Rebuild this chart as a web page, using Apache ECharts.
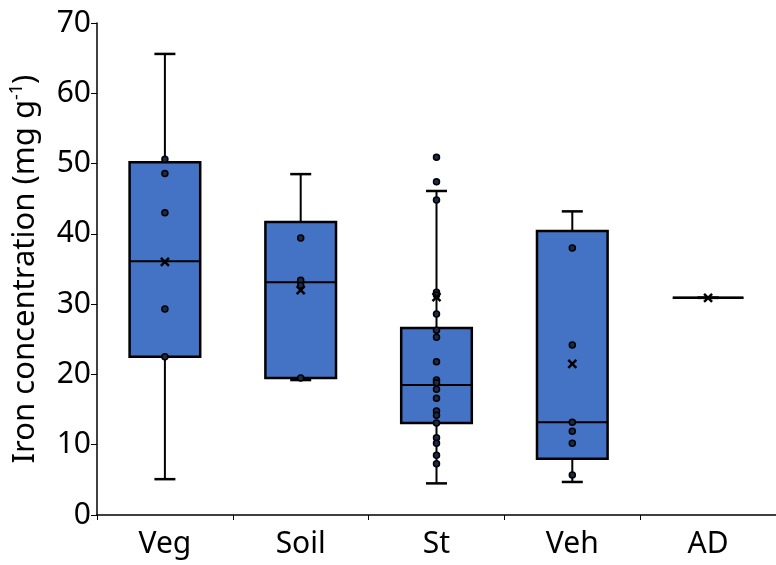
<!DOCTYPE html>
<html>
<head>
<meta charset="utf-8">
<script src="https://cdn.jsdelivr.net/npm/echarts@6/dist/echarts.min.js"></script>
<style>html,body{margin:0;padding:0;background:#fff}#c{width:776px;height:565px}</style>
</head>
<body>
<div id="c"></div>
<script>
const categories = ['Veg', 'Soil', 'St', 'Veh', 'AD'];
// [min, Q1, median, Q3, max]
const vegBox = [5.1, 22.5, 36.1, 50.2, 65.6];
const soilBox = [19.2, 19.5, 33.1, 41.7, 48.5];
const stBox = [4.5, 13.1, 18.5, 26.6, 46.1];
const vehBox = [4.7, 8.0, 13.2, 40.4, 43.2];
const adBox = [30.9, 30.9, 30.9, 30.9, 30.9];
const means = [36.0, 32.0, 31.0, 21.5, 30.9];
const vegPoints = [50.6, 48.6, 43.0, 29.3, 22.5];
const soilPoints = [39.4, 33.4, 32.7, 19.5];
const stPoints = [50.9, 47.4, 44.8, 31.7, 31.3, 28.6, 26.3, 25.3, 21.8, 19.2, 18.8, 17.9, 16.6, 14.8, 14.2, 13.1, 11.0, 10.2, 8.5, 7.3];
const vehPoints = [38.0, 24.2, 13.2, 11.9, 10.2, 5.7];
const adPoints = [];
const yTicks = [0, 10, 20, 30, 40, 50, 60, 70];

const boxes = [vegBox, soilBox, stBox, vehBox, adBox];
const pointSets = [vegPoints, soilPoints, stPoints, vehPoints, adPoints];

const boxData = boxes.map((b, i) => [i].concat(b));
const pointData = [];
pointSets.forEach((arr, i) => arr.forEach(v => pointData.push([i, v])));
const meanData = means.map((m, i) => [i, m]);

const FONT = 'Noto Sans';
const chart = echarts.init(document.getElementById('c'));
chart.setOption({
  animation: false,
  backgroundColor: '#fff',
  grid: { left: 97, right: 0, top: 23, bottom: 50, containLabel: false },
  xAxis: {
    type: 'category',
    data: categories,
    boundaryGap: true,
    axisLine: { lineStyle: { color: '#000', width: 1.5 } },
    axisTick: { show: true, interval: 0, length: 5, lineStyle: { color: '#000', width: 1 } },
    axisLabel: { color: '#000', fontFamily: FONT, fontSize: 30, margin: 14 },
    splitLine: { show: false }
  },
  yAxis: {
    type: 'value',
    min: yTicks[0],
    max: yTicks[yTicks.length - 1],
    interval: 10,
    name: '{a|Iron concentration (mg g}{s|-1}{a|)}',
    nameLocation: 'middle',
    nameGap: 55,
    nameRotate: 90,
    nameTextStyle: {
      color: '#000',
      fontFamily: FONT,
      fontSize: 31,
      rich: {
        a: { fontFamily: FONT, fontSize: 31, color: '#000' },
        s: { fontFamily: FONT, fontSize: 18, color: '#000', padding: [0, 0, 16, 0] }
      }
    },
    axisLine: { show: true, lineStyle: { color: '#000', width: 1.5 } },
    axisTick: { show: true, length: 6, lineStyle: { color: '#000', width: 1 } },
    axisLabel: { color: '#000', fontFamily: FONT, fontSize: 30, margin: 6 },
    splitLine: { show: false }
  },
  series: [
    {
      type: 'custom',
      data: boxData,
      encode: { x: 0, y: [1, 2, 3, 4, 5] },
      z: 2,
      renderItem: function (params, api) {
        const idx = api.value(0);
        const band = api.size([1, 0])[0];
        const bw = band * 0.52;
        const cw = 21;
        const pMin = api.coord([idx, api.value(1)]);
        const pQ1 = api.coord([idx, api.value(2)]);
        const pMed = api.coord([idx, api.value(3)]);
        const pQ3 = api.coord([idx, api.value(4)]);
        const pMax = api.coord([idx, api.value(5)]);
        const x = pMin[0];
        const ls = { stroke: '#000', lineWidth: 2 };
        return {
          type: 'group',
          children: [
            { type: 'line', shape: { x1: x, y1: pQ3[1], x2: x, y2: pMax[1] }, style: ls },
            { type: 'line', shape: { x1: x, y1: pQ1[1], x2: x, y2: pMin[1] }, style: ls },
            { type: 'line', shape: { x1: x - cw / 2, y1: pMax[1], x2: x + cw / 2, y2: pMax[1] }, style: { stroke: '#000', lineWidth: 2.5 } },
            { type: 'line', shape: { x1: x - cw / 2, y1: pMin[1], x2: x + cw / 2, y2: pMin[1] }, style: { stroke: '#000', lineWidth: 2.5 } },
            { type: 'rect', shape: { x: x - bw / 2, y: pQ3[1], width: bw, height: pQ1[1] - pQ3[1] }, style: { fill: '#4472C4', stroke: '#000', lineWidth: 2.5 } },
            { type: 'line', shape: { x1: x - bw / 2, y1: pMed[1], x2: x + bw / 2, y2: pMed[1] }, style: ls }
          ]
        };
      }
    },
    {
      type: 'scatter',
      data: pointData,
      z: 3,
      symbol: 'circle',
      symbolSize: 6,
      itemStyle: { color: '#1a2a4a', borderColor: '#000', borderWidth: 1.5, opacity: 1 }
    },
    {
      type: 'scatter',
      data: meanData,
      z: 4,
      symbol: 'path://M0,0L10,10M10,0L0,10',
      symbolSize: 8,
      itemStyle: { color: 'none', borderColor: '#000', borderWidth: 2.5, opacity: 1 }
    }
  ]
});
</script>
</body>
</html>
